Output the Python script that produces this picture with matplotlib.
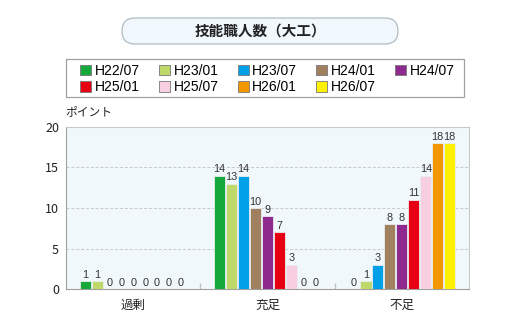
import numpy as np
import matplotlib.pyplot as plt
from matplotlib.patches import FancyBboxPatch, Rectangle
from matplotlib.transforms import IdentityTransform

plt.rcParams['font.family'] = ['Noto Sans CJK JP', 'DejaVu Sans']

categories = ['過剰', '充足', '不足']
periods = ['H22/07', 'H23/01', 'H23/07', 'H24/01', 'H24/07',
           'H25/01', 'H25/07', 'H26/01', 'H26/07']
colors = ['#17a83b', '#bfd86a', '#00a0e9', '#a0805f', '#8e2a8e',
          '#e60012', '#f8cfe0', '#f39800', '#fff100']

kajo = [1, 1, 0, 0, 0, 0, 0, 0, 0]
jusoku = [14, 13, 14, 10, 9, 7, 3, 0, 0]
fusoku = [0, 1, 3, 8, 8, 11, 14, 18, 18]
values = np.array([kajo, jusoku, fusoku])  # rows: category, cols: period

fig = plt.figure(figsize=(5.2, 3.27), dpi=100)
ax = fig.add_axes([0.127, 0.116, 0.775, 0.496])
ax.set_facecolor('#f1f8fc')

x = np.arange(len(categories))
step = 0.089
width = 0.082
handles = []
for i, (p, c) in enumerate(zip(periods, colors)):
    bars = ax.bar(x + (i - 4) * step, values[:, i], width, color=c,
                  edgecolor='#e8eef2', linewidth=0.6, label=p, zorder=3)
    ax.bar_label(bars, padding=1, fontsize=7.8, color='#333333',
                 family='Liberation Sans')
    handles.append(bars)

ax.set_xlim(-0.5, 2.5)
ax.set_ylim(0, 20)
ax.set_yticks([0, 5, 10, 15, 20])
ax.yaxis.grid(True, linestyle=(0, (3, 2)), color='#c8c8c8', linewidth=0.7)
ax.set_axisbelow(True)
ax.tick_params(axis='y', length=0, labelsize=9, pad=5, labelcolor='#222222')

ax.set_xticks(x)
ax.set_xticklabels(categories, fontsize=9)
ax.tick_params(axis='x', length=0, pad=7, labelcolor='#222222')
ax.set_xticks([0.5, 1.5], minor=True)
ax.tick_params(axis='x', which='minor', direction='in', length=4,
               color='#c0c0c0', width=1)
for s in ax.spines.values():
    s.set_color('#c8c8c8')
    s.set_linewidth(0.8)
ax.spines['left'].set_color('#a0a0a0')
ax.spines['bottom'].set_color('#a0a0a0')

fig.text(0.125, 0.66, 'ポイント', fontsize=8.5, color='#222222', va='center')

# title pill
pix = IdentityTransform()
fig.add_artist(FancyBboxPatch((122, 283), 276, 26,
                              boxstyle='round,pad=0,rounding_size=13',
                              transform=pix, facecolor='#f0f8fe',
                              edgecolor='#b0bcc4', linewidth=0.9))
fig.text(0.5, 1 - 31 / 327, '技能職人数（大工）', fontsize=10.5,
         fontweight='bold', ha='center', va='center', color='#222222')

# legend: reorder so rows read left to right
order = [0, 5, 1, 6, 2, 7, 3, 8, 4]
leg = fig.legend([handles[i] for i in order], [periods[i] for i in order],
                 ncol=5, loc='upper left', bbox_to_anchor=(80 / 520, 1 - 64 / 327),
                 frameon=False, handlelength=0.8, handleheight=0.8,
                 handletextpad=0.25, columnspacing=1.38, labelspacing=0.15,
                 borderpad=0, borderaxespad=0,
                 prop={'family': 'Liberation Sans', 'size': 10})
for h in leg.legend_handles:
    h.set_edgecolor('#777777')
    h.set_linewidth(0.6)
fig.add_artist(Rectangle((66, 327 - 97), 398, 38, transform=pix,
                         facecolor='none', edgecolor='#a0a0a0', linewidth=0.9))

fig.savefig('out.png', dpi=100)
